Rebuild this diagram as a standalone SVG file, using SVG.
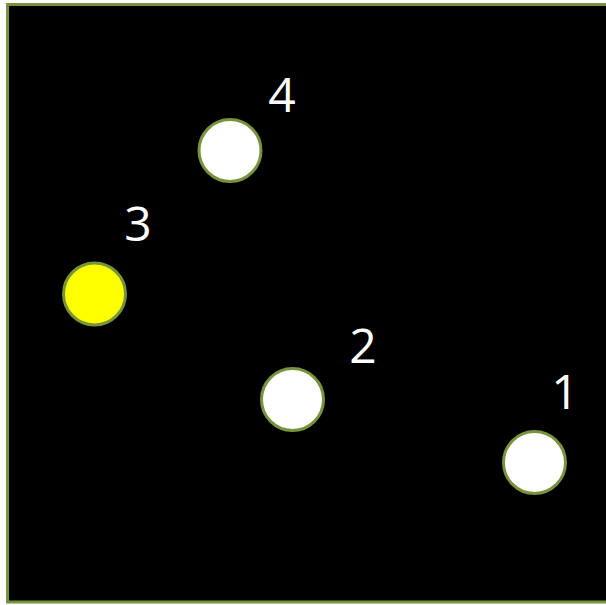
<svg xmlns="http://www.w3.org/2000/svg" width="606" height="605" viewBox="0 0 606 605">
<style>
.node{stroke:#77933C;stroke-width:3}
.lbl{fill:#FFFFFF;font-family:"Open Sans","Liberation Sans",sans-serif;font-size:48px;text-anchor:middle}
</style>
<rect x="0" y="0" width="606" height="605" fill="#FFFFFF"/>
<rect id="frame" x="7.5" y="4.5" width="610" height="597.5" fill="#000000" stroke="#77933C" stroke-width="3"/>
<g id="connectors"></g>
<g id="node1"><circle class="node" cx="534.5" cy="462.5" r="31" fill="#FFFFFF"/><text class="lbl" x="565" y="409">1</text></g>
<g id="node2"><circle class="node" cx="292.5" cy="399.5" r="31" fill="#FFFFFF"/><text class="lbl" x="363" y="363">2</text></g>
<g id="node3"><circle class="node" cx="94.5" cy="294" r="31" fill="#FFFF00"/><text class="lbl" x="138" y="241">3</text></g>
<g id="node4"><circle class="node" cx="230" cy="150.5" r="31" fill="#FFFFFF"/><text class="lbl" x="282" y="112">4</text></g>
</svg>
